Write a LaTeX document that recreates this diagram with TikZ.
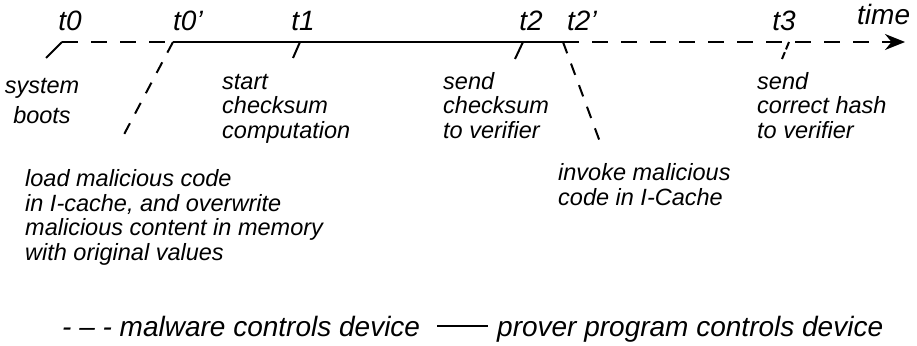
\documentclass[tikz,border=0pt]{standalone}
\usepackage{fontspec}
\setmainfont{Liberation Sans}
\usetikzlibrary{arrows.meta,positioning}

\begin{document}
\begin{tikzpicture}[
  x=1pt, y=-1pt,
  note/.style={align=left, anchor=base west, inner sep=0pt, font=\itshape\fontsize{23.5}{24.5}\selectfont},
  tlabel/.style={anchor=base, inner sep=0pt, font=\itshape\fontsize{28}{30}\selectfont},
  legend/.style={anchor=base west, inner sep=0pt, font=\itshape\fontsize{28}{30}\selectfont},
  axis/.style={line width=2.2pt},
  malware/.style={axis, dash pattern=on 16pt off 13pt},
  tick/.style={line width=2pt},
  slant/.style={tick, dash pattern=on 12pt off 11pt}
]
  \useasboundingbox (0,0) rectangle (917,345);

  % Points on the time line
  \coordinate (t0) at (62,42);
  \coordinate (t0p) at (173,42);
  \coordinate (t1) at (300,42);
  \coordinate (t2) at (523,42);
  \coordinate (t2p) at (563,42);
  \coordinate (t3) at (789,42);
  \coordinate (tend) at (905,42);

  % Lower ends of the ticks
  \coordinate (b0) at (46,58);
  \coordinate (b0p) at (120,142);
  \coordinate (b1) at (293,58);
  \coordinate (b2) at (515,59);
  \coordinate (b2p) at (600,142);
  \coordinate (b3) at (782,59);

  % Time line
  \draw[malware] (t0) -- (t0p);
  \draw[axis] (t0p) -- (t2p);
  \draw[malware, -{Stealth[length=20pt,width=16pt]}] (t2p) -- (tend);

  % Ticks
  \draw[tick] (t0) -- (b0);
  \draw[slant] (t0p) -- (b0p);
  \draw[tick] (t1) -- (b1);
  \draw[tick] (t2) -- (b2);
  \draw[slant] (t2p) -- (b2p);
  \draw[tick, dash pattern=on 8pt off 3pt] (t3) -- (b3);

  % Time labels
  \node[tlabel] (lt0) at (70,31) {t0};
  \node[tlabel, anchor=base west] (lt0p) at (173,31) {t0’};
  \node[tlabel] (lt1) at (303,31) {t1};
  \node[tlabel] (lt2) at (531,31) {t2};
  \node[tlabel, anchor=base west] (lt2p) at (567,31) {t2’};
  \node[tlabel] (lt3) at (784,31) {t3};
  \node[tlabel, anchor=base west] (ltime) at (857,25) {time};

  % Events (anchored at the base of the last line)
  \node[note, align=center, anchor=base] (boots) at (42,123) {system\\[5pt]boots};
  \node[note] (start) at (222,138) {start\\checksum\\computation};
  \node[note] (send) at (443,138) {send\\checksum\\to verifier};
  \node[note] (hash) at (757,138) {send\\correct hash\\to verifier};
  \node[note] (load) at (25,260) {load malicious code\\in I-cache, and overwrite\\malicious content in memory\\with original values};
  \node[note] (invoke) at (558,205) {invoke malicious\\code in I-Cache};

  % Legend
  \node[legend] (mal) at (62,336) {- – - malware controls device};
  \coordinate (la) at (437,326);
  \coordinate (lb) at (488,326);
  \draw[line width=1.3pt] (la) -- (lb);
  \node[legend] (prov) at (497,336) {prover program controls device};
\end{tikzpicture}
\end{document}
